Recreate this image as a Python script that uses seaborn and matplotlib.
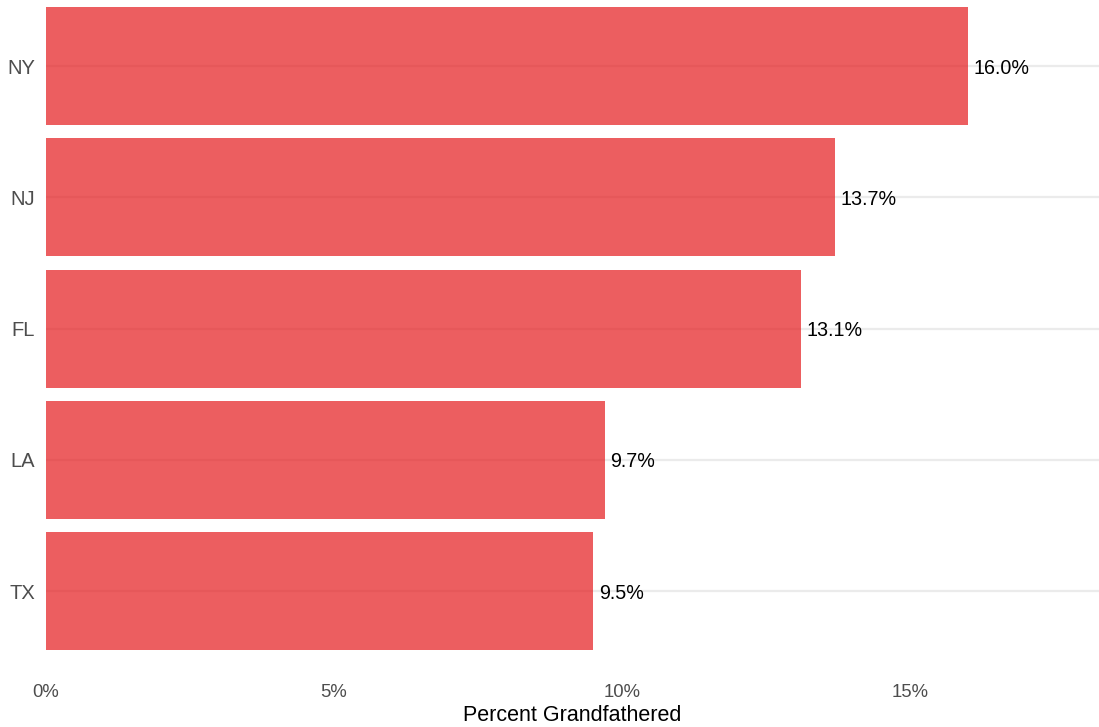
import matplotlib
matplotlib.use("Agg")
import matplotlib.pyplot as plt
import seaborn as sns
import pandas as pd
from matplotlib.ticker import FuncFormatter

states = ["NY", "NJ", "FL", "LA", "TX"]
percent = [16.0, 13.7, 13.1, 9.7, 9.5]
xticks = [0, 5, 10, 15]

df = pd.DataFrame({"state": states, "percent": percent})

sns.set_theme(style="white")
plt.rcParams["font.family"] = ["Liberation Sans", "DejaVu Sans"]

fig = plt.figure(figsize=(10.99, 7.27), dpi=100)
ax = fig.add_axes([46 / 1099, 1 - 670 / 727, 1053 / 1099, 670 / 727])

for i in range(len(states)):
    ax.axhline(i, color="#EBEBEB", lw=1.6, zorder=0)

sns.barplot(data=df, x="percent", y="state", orient="h", color="#E41A1C",
            alpha=0.7, width=0.9, saturation=1, linewidth=0, edgecolor="none",
            ax=ax, zorder=2)

for i, v in enumerate(percent):
    ax.text(v + 0.1, i + 0.015, f"{v:.1f}%", va="center", ha="left", fontsize=14.2,
            color="black", zorder=3)

ax.set_xlim(0, 18.28)
ax.set_ylim(4.6, -0.503)
ax.set_xticks(xticks)
ax.xaxis.set_major_formatter(FuncFormatter(lambda x, p: f"{x:.0f}%"))
ax.tick_params(axis="x", length=0, labelsize=13.3, labelcolor="#4D4D4D", pad=10)
ax.tick_params(axis="y", length=0, labelsize=14.5, labelcolor="#4D4D4D", pad=8)
ax.set_xlabel("Percent Grandfathered", fontsize=15.5, color="black", labelpad=3)
ax.set_ylabel("")
ax.grid(False)
for s in ax.spines.values():
    s.set_visible(False)

fig.savefig("out.png", dpi=100)
